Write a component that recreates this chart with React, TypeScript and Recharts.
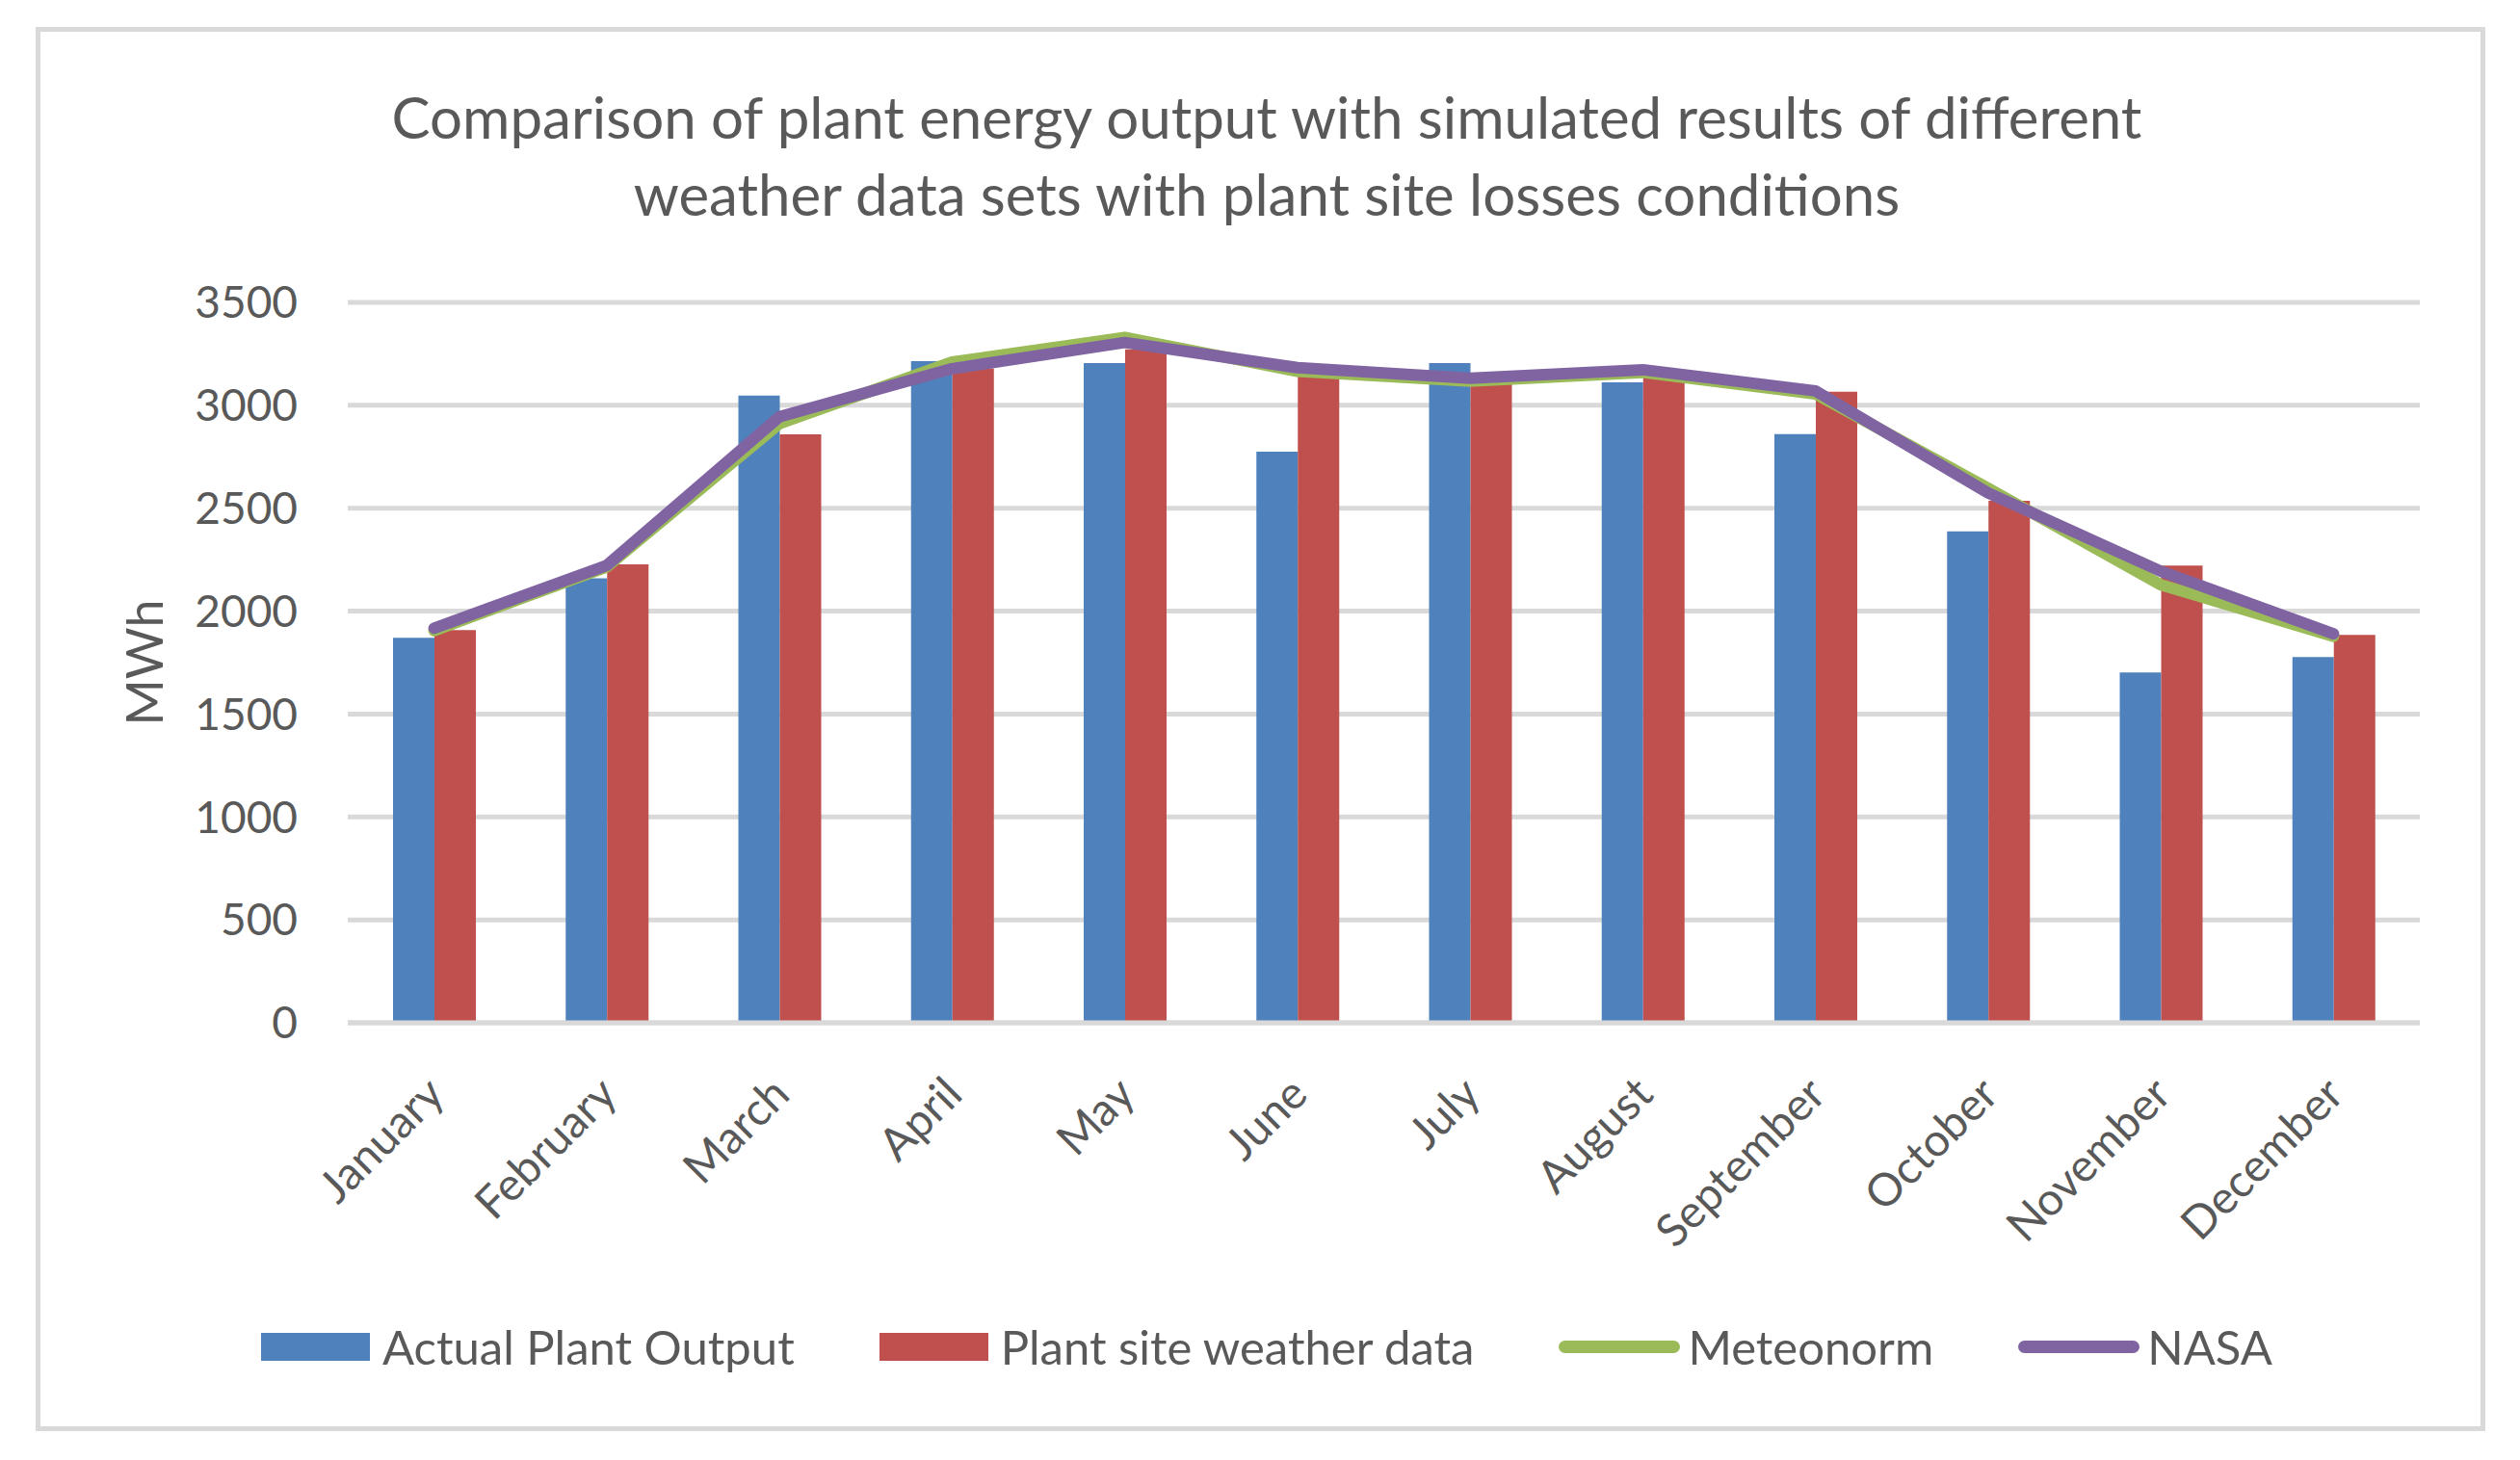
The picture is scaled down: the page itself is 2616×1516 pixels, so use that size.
import React from 'react';
import { ComposedChart, Bar, Line, XAxis, YAxis, CartesianGrid } from 'recharts';

const months = [
  'January', 'February', 'March', 'April', 'May', 'June',
  'July', 'August', 'September', 'October', 'November', 'December',
];
const actualOutput = [1870, 2160, 3047, 3215, 3205, 2775, 3205, 3112, 2860, 2387, 1702, 1777];
const plantSiteWeather = [1908, 2227, 2859, 3180, 3272, 3160, 3125, 3165, 3066, 2536, 2222, 1885];
const meteonorm = [1905, 2215, 2911, 3210, 3330, 3165, 3118, 3160, 3055, 2597, 2128, 1878];
const nasa = [1917, 2222, 2944, 3178, 3305, 3183, 3131, 3173, 3070, 2574, 2194, 1890];
const yTicks = [0, 500, 1000, 1500, 2000, 2500, 3000, 3500];

const titleLines = [
  'Comparison of plant energy output with simulated results of different',
  'weather data sets with plant site losses conditions',
];

const series = [
  { key: 'actual', name: 'Actual Plant Output', color: '#4F81BD', kind: 'bar' },
  { key: 'plantSite', name: 'Plant site weather data', color: '#C0504D', kind: 'bar' },
  { key: 'meteonorm', name: 'Meteonorm', color: '#9BBB59', kind: 'line' },
  { key: 'nasa', name: 'NASA', color: '#8064A2', kind: 'line' },
];

const data = months.map((month, i) => ({
  month,
  actual: actualOutput[i],
  plantSite: plantSiteWeather[i],
  meteonorm: meteonorm[i],
  nasa: nasa[i],
}));

const TEXT = '#595959';
const GRID = '#D9D9D9';
const FONT = 'Lato, "Open Sans", sans-serif';

function MonthTick({ x, y, payload }: any) {
  return (
    <g transform={`translate(${x - 12},${y + 50})`}>
      <text
        transform="rotate(-45)"
        textAnchor="end"
        dy="0.75em"
        fill={TEXT}
        fontSize={47}
        fontFamily={FONT}
      >
        {payload.value}
      </text>
    </g>
  );
}

function UnitLabel({ viewBox }: any) {
  const cy = viewBox.y + viewBox.height / 2;
  return (
    <text
      x={169}
      y={cy}
      transform={`rotate(-90, 169, ${cy})`}
      textAnchor="middle"
      fill={TEXT}
      fontSize={52}
      fontFamily={FONT}
    >
      MWh
    </text>
  );
}

export default function App() {
  return (
    <div
      style={{
        position: 'absolute',
        left: 0,
        top: 0,
        width: 2616,
        height: 1516,
        background: '#fff',
        fontFamily: FONT,
        color: TEXT,
      }}
    >
      <div
        style={{
          position: 'absolute',
          left: 37,
          top: 28,
          width: 2543,
          height: 1458,
          border: `5px solid ${GRID}`,
          boxSizing: 'border-box',
        }}
      />
      <div
        style={{
          position: 'absolute',
          left: 0,
          top: 81,
          width: 2630,
          textAlign: 'center',
          fontSize: 60,
          lineHeight: '80px',
        }}
      >
        {titleLines.map((t) => (
          <div key={t}>{t}</div>
        ))}
      </div>

      <div style={{ position: 'absolute', left: 0, top: 0 }}>
        <ComposedChart
          width={2616}
          height={1516}
          data={data}
          margin={{ top: 314, right: 104, bottom: 254, left: 0 }}
          barGap={0}
        >
          <CartesianGrid vertical={false} stroke={GRID} strokeWidth={5} />
          <XAxis
            dataKey="month"
            height={200}
            tick={<MonthTick />}
            tickLine={false}
            tickSize={0}
            axisLine={{ stroke: GRID, strokeWidth: 5 }}
            interval={0}
          />
          <YAxis
            width={361}
            domain={[0, 3500]}
            ticks={yTicks}
            tickLine={false}
            axisLine={false}
            tickSize={0}
            tickMargin={52}
            tick={{ fill: TEXT, fontSize: 46, fontFamily: FONT }}
            label={<UnitLabel />}
          />
          {series
            .filter((s) => s.kind === 'bar')
            .map((s) => (
              <Bar key={s.key} dataKey={s.key} name={s.name} fill={s.color} barSize={43} isAnimationActive={false} />
            ))}
          {series
            .filter((s) => s.kind === 'line')
            .map((s) => (
              <Line
                key={s.key}
                type="linear"
                dataKey={s.key}
                name={s.name}
                stroke={s.color}
                strokeWidth={12}
                strokeLinecap="round"
                strokeLinejoin="round"
                dot={false}
                activeDot={false}
                isAnimationActive={false}
              />
            ))}
        </ComposedChart>
      </div>

      <div
        style={{
          position: 'absolute',
          left: 0,
          top: 1366,
          width: 2630,
          display: 'flex',
          justifyContent: 'center',
          alignItems: 'center',
          fontSize: 49,
          lineHeight: '64px',
        }}
      >
        {series.map((s, i) => (
          <div
            key={s.key}
            style={{ display: 'flex', alignItems: 'center', marginLeft: i === 0 ? 0 : 88 }}
          >
            {s.kind === 'bar' ? (
              <div style={{ width: 113, height: 29, background: s.color }} />
            ) : (
              <div style={{ width: 126, height: 13, borderRadius: 7, background: s.color }} />
            )}
            <span style={{ marginLeft: s.kind === 'bar' ? 13 : 8 }}>{s.name}</span>
          </div>
        ))}
      </div>
    </div>
  );
}
